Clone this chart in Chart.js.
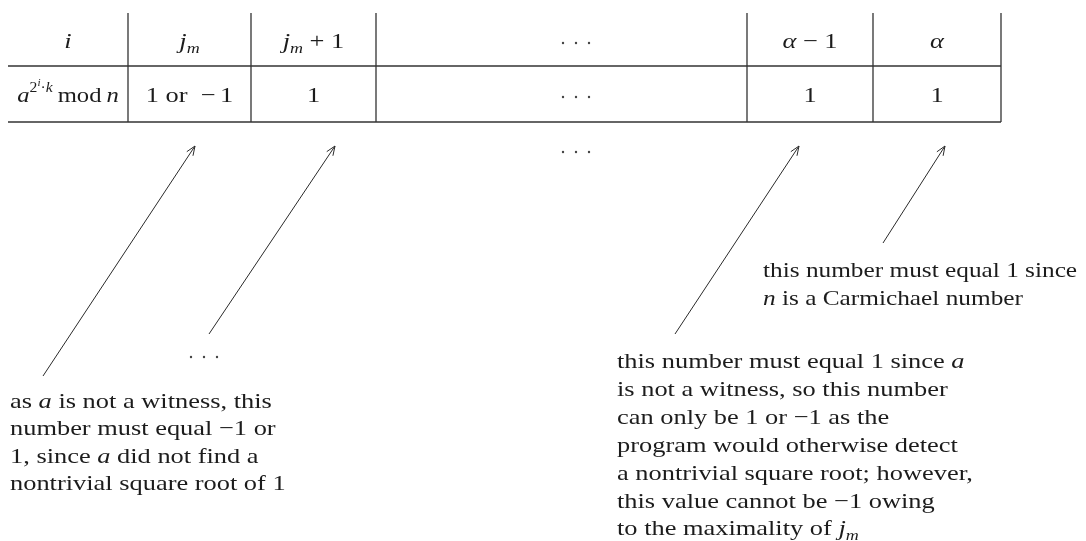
<!DOCTYPE html>
<html>
<head>
<meta charset="utf-8">
<style>
  html, body { margin: 0; padding: 0; background: #fff; }
  canvas { display: block; }
</style>
<script src="https://cdn.jsdelivr.net/npm/chart.js@4/dist/chart.umd.min.js"></script>
</head>
<body>
<canvas id="myChart" width="1086" height="541"></canvas>
<script>
// table grid
const columnEdges = [8, 128, 251, 376, 747, 873, 1001];
const tableTop = 13;
const rowRules = [66, 122];

// table text ('*x*' = italic, '_m' = italic subscript)
const headerCells = ['*i*', '*j*_m', '*j*_m + 1', '', '*α* − 1', '*α*'];
const valueCells = [null, '1 or\u2002−\u20061', '1', '', '1', '1'];
const rowLabel = [
  {t: 'a', s: 'it'}, {t: '2', s: 'sup'}, {t: 'i', s: 'supsup'},
  {t: '·', s: 'sup'}, {t: 'k', s: 'supit'},
  {t: '\u2009mod\u2009', s: 'rm'}, {t: 'n', s: 'it'}
];
const headerBaseline = 48;
const valueBaseline = 102;

// ellipses drawn as three dots
const ellipsisCentres = [[576, 43], [576, 97], [576, 152], [204, 357]];

// arrows: [tailX, tailY, tipX, tipY]
const arrows = [
  [43, 376, 195, 146],
  [209, 334, 335, 146],
  [675, 334, 799, 146],
  [883, 243, 945, 146]
];

// notes
const noteLeft = [
  'as *a* is not a witness, this',
  'number must equal −1 or',
  '1, since *a* did not find a',
  'nontrivial square root of 1'
];
const noteMiddle = [
  'this number must equal 1 since *a*',
  'is not a witness, so this number',
  'can only be 1 or −1 as the',
  'program would otherwise detect',
  'a nontrivial square root; however,',
  'this value cannot be −1 owing',
  'to the maximality of *j*_m'
];
const noteRight = [
  'this number must equal 1 since',
  '*n* is a Carmichael number'
];
const notes = [
  {lines: noteLeft, x: 10, y: 408, step: 27.3, stretch: 1.2},
  {lines: noteMiddle, x: 617, y: 368, step: 27.9, stretch: 1.2},
  {lines: noteRight, x: 763, y: 277, step: 28, stretch: 1.15}
];

const FONT = '"Liberation Serif", "Times New Roman", serif';
const INK = '#1c1c1c';
const STRETCH = 1.2; // glyphs in the figure are wider than their height suggests
const STYLE = {
  rm: {size: 22, italic: false, dy: 0},
  it: {size: 22, italic: true, dy: 0},
  sub: {size: 15, italic: true, dy: 5},
  sup: {size: 14, italic: false, dy: -10},
  supit: {size: 14, italic: true, dy: -10},
  supsup: {size: 10, italic: true, dy: -16}
};

function parseLine(s) {
  const runs = [];
  s.split(/(\*[^*]+\*|_\w)/).forEach(p => {
    if (!p) return;
    if (p[0] === '*') runs.push({t: p.slice(1, -1), s: 'it'});
    else if (p[0] === '_') runs.push({t: p.slice(1), s: 'sub'});
    else runs.push({t: p, s: 'rm'});
  });
  return runs;
}

function setFont(ctx, st) {
  ctx.font = (st.italic ? 'italic ' : '') + st.size + 'px ' + FONT;
}

function drawRuns(ctx, runs, x, y, align, stretch) {
  const k = stretch || STRETCH;
  let w = 0;
  runs.forEach(r => { setFont(ctx, STYLE[r.s]); w += ctx.measureText(r.t).width * k; });
  let cx = align === 'center' ? x - w / 2 : x;
  runs.forEach(r => {
    const st = STYLE[r.s];
    setFont(ctx, st);
    ctx.save();
    ctx.translate(cx, y + st.dy);
    ctx.scale(k, 1);
    ctx.fillText(r.t, 0, 0);
    ctx.restore();
    cx += ctx.measureText(r.t).width * k;
  });
}

// datasets
const datasets = [];
function segment(x1, y1, x2, y2, width, colour) {
  datasets.push({
    data: [{x: x1, y: y1}, {x: x2, y: y2}],
    showLine: true, pointRadius: 0,
    borderWidth: width, borderColor: colour
  });
}
const gridLeft = columnEdges[0], gridRight = columnEdges[columnEdges.length - 1];
rowRules.forEach(y => segment(gridLeft, y, gridRight, y, 1.6, '#333'));
columnEdges.slice(1).forEach(x => segment(x, tableTop, x, rowRules[1], 1.2, '#222'));

arrows.forEach(a => {
  segment(a[0], a[1], a[2], a[3], 1, '#2a2a2a');
  const ang = Math.atan2(a[1] - a[3], a[0] - a[2]);
  [-0.38, 0.38].forEach(d => {
    segment(a[2], a[3], a[2] + 10 * Math.cos(ang + d), a[3] + 10 * Math.sin(ang + d), 1, '#2a2a2a');
  });
});

datasets.push({
  data: ellipsisCentres.flatMap(c => [-13, 0, 13].map(o => ({x: c[0] + o, y: c[1]}))),
  showLine: false, pointRadius: 1.2, pointBorderWidth: 0,
  pointBackgroundColor: '#444'
});

const textPlugin = {
  id: 'diagramText',
  afterDatasetsDraw(chart) {
    const ctx = chart.ctx;
    const sx = chart.scales.x, sy = chart.scales.y;
    ctx.save();
    ctx.fillStyle = INK;
    ctx.textBaseline = 'alphabetic';
    ctx.textAlign = 'left';
    headerCells.forEach((c, i) => {
      if (!c) return;
      const mid = (columnEdges[i] + columnEdges[i + 1]) / 2;
      drawRuns(ctx, parseLine(c), sx.getPixelForValue(mid), sy.getPixelForValue(headerBaseline), 'center');
    });
    valueCells.forEach((c, i) => {
      const mid = (columnEdges[i] + columnEdges[i + 1]) / 2;
      const runs = c === null ? rowLabel : parseLine(c);
      if (!runs.length) return;
      // the row label is set a little tighter to sit inside its cell
      drawRuns(ctx, runs, sx.getPixelForValue(mid), sy.getPixelForValue(valueBaseline), 'center', c === null ? 1.12 : STRETCH);
    });
    notes.forEach(n => {
      n.lines.forEach((l, k) => {
        drawRuns(ctx, parseLine(l), sx.getPixelForValue(n.x), sy.getPixelForValue(n.y + k * n.step), 'left', n.stretch);
      });
    });
    ctx.restore();
  }
};

new Chart(document.getElementById('myChart'), {
  type: 'scatter',
  data: {datasets: datasets},
  options: {
    responsive: false,
    animation: false,
    events: [],
    layout: {padding: 0, autoPadding: false},
    plugins: {legend: {display: false}, tooltip: {enabled: false}},
    scales: {
      x: {type: 'linear', min: 0, max: 1086, display: false},
      y: {type: 'linear', min: 0, max: 541, reverse: true, display: false}
    }
  },
  plugins: [textPlugin]
});
</script>
</body>
</html>
